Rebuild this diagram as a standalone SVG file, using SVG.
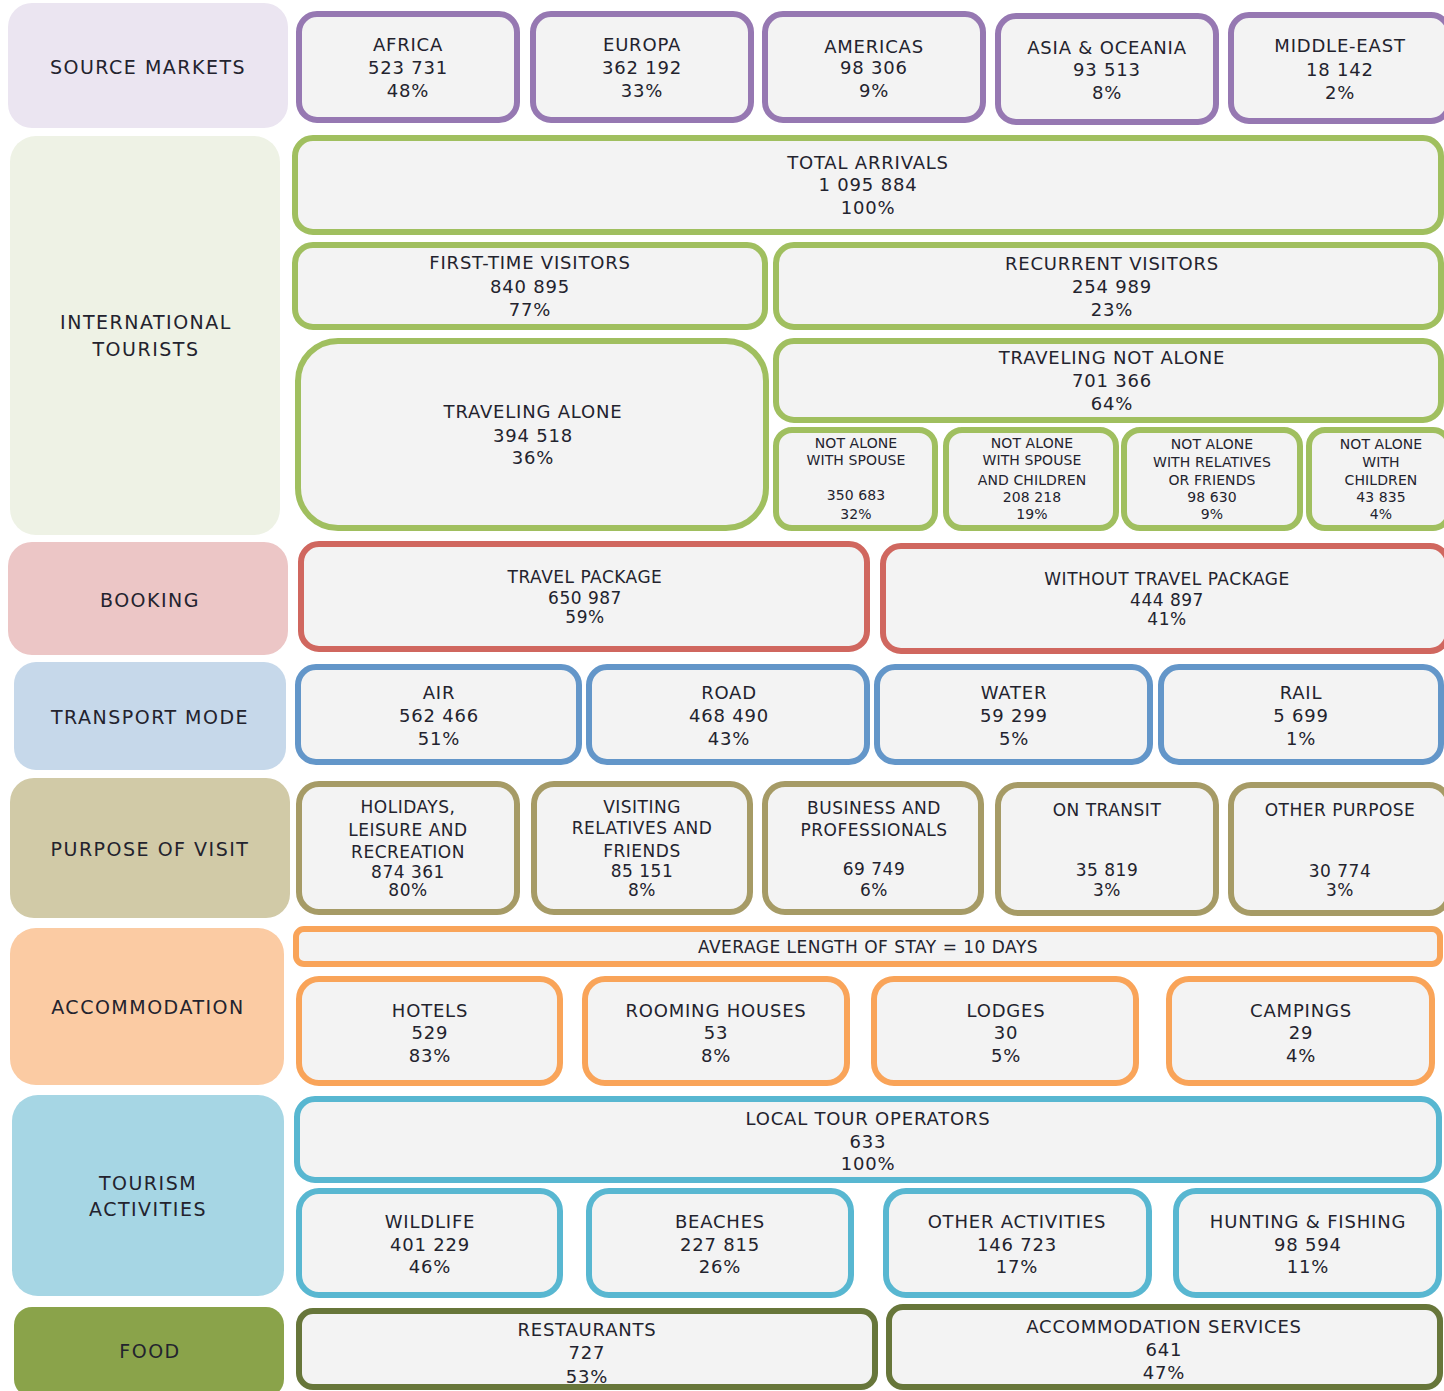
<svg xmlns="http://www.w3.org/2000/svg" width="1444" height="1391" viewBox="0 0 1444 1391">
<style>
text{font-family:"DejaVu Sans","Liberation Sans",sans-serif;fill:#23232e;text-anchor:middle}
.lab{font-size:19px;letter-spacing:1.5px}
.t{font-size:18px;letter-spacing:0.8px}
.p{font-size:17px;letter-spacing:0.5px}
.s{font-size:14px;letter-spacing:0.1px}
.box{fill:#f3f3f3;stroke-width:6}
.pu{stroke:#9678b2}.gr{stroke:#a0bf5f}.rd{stroke:#d0675f}.bl{stroke:#6396c9}
.kh{stroke:#a69b66}.or{stroke:#f9a459}.te{stroke:#58b7d1}.ol{stroke:#67763a}
</style>
<rect width="1444" height="1391" fill="#ffffff"/>
<g id="connectors"></g>

<!-- left category labels -->
<g id="cat-source"><rect x="8" y="3" width="280" height="125" rx="24" fill="#ebe5f1"/><text class="lab" x="148" y="74">SOURCE MARKETS</text></g>
<g id="cat-intl"><rect x="10" y="136" width="270" height="399" rx="26" fill="#eef2e5"/><text class="lab" x="146" y="329">INTERNATIONAL</text><text class="lab" x="146" y="356">TOURISTS</text></g>
<g id="cat-booking"><rect x="8" y="542" width="280" height="113" rx="24" fill="#ecc6c6"/><text class="lab" x="150" y="607">BOOKING</text></g>
<g id="cat-transport"><rect x="14" y="662" width="272" height="108" rx="22" fill="#c6d8ea"/><text class="lab" x="150" y="724">TRANSPORT MODE</text></g>
<g id="cat-purpose"><rect x="10" y="778" width="280" height="140" rx="24" fill="#d1caa7"/><text class="lab" x="150" y="856">PURPOSE OF VISIT</text></g>
<g id="cat-accommodation"><rect x="10" y="928" width="274" height="157" rx="26" fill="#fbcba3"/><text class="lab" x="148" y="1014">ACCOMMODATION</text></g>
<g id="cat-tourism"><rect x="12" y="1095" width="272" height="201" rx="26" fill="#a6d6e4"/><text class="lab" x="148" y="1190">TOURISM</text><text class="lab" x="148" y="1216">ACTIVITIES</text></g>
<g id="cat-food"><rect x="14" y="1307" width="270" height="90" rx="18" fill="#8aa34a"/><text class="lab" x="150" y="1358">FOOD</text></g>

<!-- source markets -->
<g id="africa"><rect class="box pu" x="299" y="14" width="218" height="106" rx="18"/><text class="t" x="408" y="51">AFRICA</text><text class="t" x="408" y="74">523 731</text><text class="t" x="408" y="97">48%</text></g>
<g id="europa"><rect class="box pu" x="533" y="14" width="218" height="106" rx="18"/><text class="t" x="642" y="51">EUROPA</text><text class="t" x="642" y="74">362 192</text><text class="t" x="642" y="97">33%</text></g>
<g id="americas"><rect class="box pu" x="765" y="14" width="218" height="106" rx="18"/><text class="t" x="874" y="53">AMERICAS</text><text class="t" x="874" y="74">98 306</text><text class="t" x="874" y="97">9%</text></g>
<g id="asia"><rect class="box pu" x="998" y="16" width="218" height="106" rx="18"/><text class="t" x="1107" y="54">ASIA &amp; OCEANIA</text><text class="t" x="1107" y="76">93 513</text><text class="t" x="1107" y="99">8%</text></g>
<g id="middle-east"><rect class="box pu" x="1231" y="15" width="218" height="106" rx="18"/><text class="t" x="1340" y="52">MIDDLE-EAST</text><text class="t" x="1340" y="76">18 142</text><text class="t" x="1340" y="99">2%</text></g>

<!-- international tourists -->
<g id="total"><rect class="box gr" x="295" y="138" width="1146" height="94" rx="18"/><text class="t" x="868" y="169">TOTAL ARRIVALS</text><text class="t" x="868" y="191">1 095 884</text><text class="t" x="868" y="214">100%</text></g>
<g id="first-time"><rect class="box gr" x="295" y="245" width="470" height="82" rx="18"/><text class="t" x="530" y="269">FIRST-TIME VISITORS</text><text class="t" x="530" y="293">840 895</text><text class="t" x="530" y="316">77%</text></g>
<g id="recurrent"><rect class="box gr" x="776" y="245" width="665" height="82" rx="18"/><text class="t" x="1112" y="270">RECURRENT VISITORS</text><text class="t" x="1112" y="293">254 989</text><text class="t" x="1112" y="316">23%</text></g>
<g id="alone"><rect class="box gr" x="298" y="341" width="468" height="187" rx="40"/><text class="t" x="533" y="418">TRAVELING ALONE</text><text class="t" x="533" y="442">394 518</text><text class="t" x="533" y="464">36%</text></g>
<g id="not-alone"><rect class="box gr" x="776" y="341" width="665" height="79" rx="18"/><text class="t" x="1112" y="364">TRAVELING NOT ALONE</text><text class="t" x="1112" y="387">701 366</text><text class="t" x="1112" y="410">64%</text></g>
<g id="na-spouse"><rect class="box gr" x="776" y="430" width="159" height="98" rx="16"/><text class="s" x="856" y="448">NOT ALONE</text><text class="s" x="856" y="465">WITH SPOUSE</text><text class="s" x="856" y="500">350 683</text><text class="s" x="856" y="519">32%</text></g>
<g id="na-spouse-children"><rect class="box gr" x="946" y="430" width="170" height="98" rx="16"/><text class="s" x="1032" y="448">NOT ALONE</text><text class="s" x="1032" y="465">WITH SPOUSE</text><text class="s" x="1032" y="485">AND CHILDREN</text><text class="s" x="1032" y="502">208 218</text><text class="s" x="1032" y="519">19%</text></g>
<g id="na-relatives"><rect class="box gr" x="1124" y="430" width="176" height="98" rx="16"/><text class="s" x="1212" y="449">NOT ALONE</text><text class="s" x="1212" y="467">WITH RELATIVES</text><text class="s" x="1212" y="485">OR FRIENDS</text><text class="s" x="1212" y="502">98 630</text><text class="s" x="1212" y="519">9%</text></g>
<g id="na-children"><rect class="box gr" x="1309" y="430" width="140" height="98" rx="16"/><text class="s" x="1381" y="449">NOT ALONE</text><text class="s" x="1381" y="467">WITH</text><text class="s" x="1381" y="485">CHILDREN</text><text class="s" x="1381" y="502">43 835</text><text class="s" x="1381" y="519">4%</text></g>

<!-- booking -->
<g id="travel-package"><rect class="box rd" x="301" y="544" width="566" height="105" rx="18"/><text class="p" x="585" y="583">TRAVEL PACKAGE</text><text class="p" x="585" y="604">650 987</text><text class="p" x="585" y="623">59%</text></g>
<g id="without-package"><rect class="box rd" x="883" y="546" width="565" height="105" rx="18"/><text class="p" x="1167" y="585">WITHOUT TRAVEL PACKAGE</text><text class="p" x="1167" y="606">444 897</text><text class="p" x="1167" y="625">41%</text></g>

<!-- transport -->
<g id="air"><rect class="box bl" x="298" y="667" width="281" height="95" rx="18"/><text class="t" x="439" y="699">AIR</text><text class="t" x="439" y="722">562 466</text><text class="t" x="439" y="745">51%</text></g>
<g id="road"><rect class="box bl" x="589" y="667" width="278" height="95" rx="18"/><text class="t" x="729" y="699">ROAD</text><text class="t" x="729" y="722">468 490</text><text class="t" x="729" y="745">43%</text></g>
<g id="water"><rect class="box bl" x="877" y="667" width="273" height="95" rx="18"/><text class="t" x="1014" y="699">WATER</text><text class="t" x="1014" y="722">59 299</text><text class="t" x="1014" y="745">5%</text></g>
<g id="rail"><rect class="box bl" x="1161" y="667" width="280" height="95" rx="18"/><text class="t" x="1301" y="699">RAIL</text><text class="t" x="1301" y="722">5 699</text><text class="t" x="1301" y="745">1%</text></g>

<!-- purpose -->
<g id="holidays"><rect class="box kh" x="299" y="784" width="218" height="128" rx="20"/><text class="p" x="408" y="813">HOLIDAYS,</text><text class="p" x="408" y="836">LEISURE AND</text><text class="p" x="408" y="858">RECREATION</text><text class="p" x="408" y="878">874 361</text><text class="p" x="408" y="896">80%</text></g>
<g id="visiting"><rect class="box kh" x="534" y="784" width="216" height="128" rx="20"/><text class="p" x="642" y="813">VISITING</text><text class="p" x="642" y="834">RELATIVES AND</text><text class="p" x="642" y="857">FRIENDS</text><text class="p" x="642" y="877">85 151</text><text class="p" x="642" y="896">8%</text></g>
<g id="business"><rect class="box kh" x="765" y="784" width="216" height="128" rx="20"/><text class="p" x="874" y="814">BUSINESS AND</text><text class="p" x="874" y="836">PROFESSIONALS</text><text class="p" x="874" y="875">69 749</text><text class="p" x="874" y="896">6%</text></g>
<g id="transit"><rect class="box kh" x="998" y="785" width="218" height="128" rx="20"/><text class="p" x="1107" y="816">ON TRANSIT</text><text class="p" x="1107" y="876">35 819</text><text class="p" x="1107" y="896">3%</text></g>
<g id="other-purpose"><rect class="box kh" x="1231" y="785" width="218" height="128" rx="20"/><text class="p" x="1340" y="816">OTHER PURPOSE</text><text class="p" x="1340" y="877">30 774</text><text class="p" x="1340" y="896">3%</text></g>

<!-- accommodation -->
<g id="average-stay"><rect class="box or" x="296" y="929" width="1144" height="35" rx="8"/><text class="p" x="868" y="953">AVERAGE LENGTH OF STAY = 10 DAYS</text></g>
<g id="hotels"><rect class="box or" x="299" y="979" width="261" height="104" rx="20"/><text class="t" x="430" y="1017">HOTELS</text><text class="t" x="430" y="1039">529</text><text class="t" x="430" y="1062">83%</text></g>
<g id="rooming"><rect class="box or" x="585" y="979" width="262" height="104" rx="20"/><text class="t" x="716" y="1017">ROOMING HOUSES</text><text class="t" x="716" y="1039">53</text><text class="t" x="716" y="1062">8%</text></g>
<g id="lodges"><rect class="box or" x="874" y="979" width="262" height="104" rx="20"/><text class="t" x="1006" y="1017">LODGES</text><text class="t" x="1006" y="1039">30</text><text class="t" x="1006" y="1062">5%</text></g>
<g id="campings"><rect class="box or" x="1169" y="979" width="263" height="104" rx="20"/><text class="t" x="1301" y="1017">CAMPINGS</text><text class="t" x="1301" y="1039">29</text><text class="t" x="1301" y="1062">4%</text></g>

<!-- tourism activities -->
<g id="local-tour"><rect class="box te" x="297" y="1099" width="1142" height="81" rx="18"/><text class="t" x="868" y="1125">LOCAL TOUR OPERATORS</text><text class="t" x="868" y="1148">633</text><text class="t" x="868" y="1170">100%</text></g>
<g id="wildlife"><rect class="box te" x="299" y="1191" width="261" height="104" rx="20"/><text class="t" x="430" y="1228">WILDLIFE</text><text class="t" x="430" y="1251">401 229</text><text class="t" x="430" y="1273">46%</text></g>
<g id="beaches"><rect class="box te" x="589" y="1191" width="262" height="104" rx="20"/><text class="t" x="720" y="1228">BEACHES</text><text class="t" x="720" y="1251">227 815</text><text class="t" x="720" y="1273">26%</text></g>
<g id="other-activities"><rect class="box te" x="886" y="1191" width="263" height="104" rx="20"/><text class="t" x="1017" y="1228">OTHER ACTIVITIES</text><text class="t" x="1017" y="1251">146 723</text><text class="t" x="1017" y="1273">17%</text></g>
<g id="hunting"><rect class="box te" x="1176" y="1191" width="263" height="104" rx="20"/><text class="t" x="1308" y="1228">HUNTING &amp; FISHING</text><text class="t" x="1308" y="1251">98 594</text><text class="t" x="1308" y="1273">11%</text></g>

<!-- food -->
<g id="restaurants"><rect class="box ol" x="299" y="1311" width="576" height="76" rx="14"/><text class="t" x="587" y="1336">RESTAURANTS</text><text class="t" x="587" y="1359">727</text><text class="t" x="587" y="1383">53%</text></g>
<g id="accommodation-services"><rect class="box ol" x="889" y="1307" width="551" height="80" rx="14"/><text class="t" x="1164" y="1333">ACCOMMODATION SERVICES</text><text class="t" x="1164" y="1356">641</text><text class="t" x="1164" y="1379">47%</text></g>
</svg>
